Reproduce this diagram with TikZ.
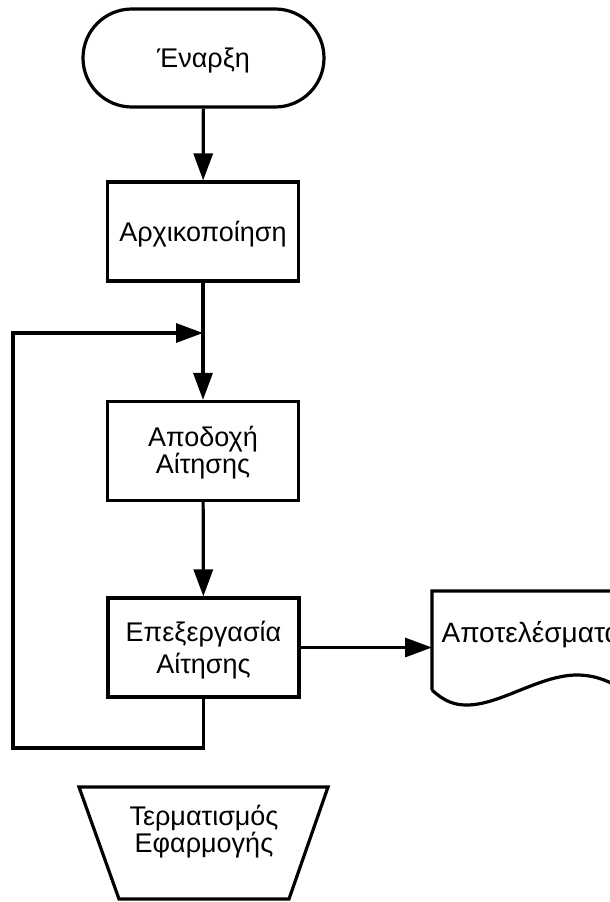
\documentclass[tikz,border=0pt]{standalone}
\usepackage{fontspec}
\setmainfont{Liberation Sans}
\usetikzlibrary{arrows.meta}
\begin{document}
\begin{tikzpicture}[x=1pt,y=-1pt,
  line width=3.2pt, line join=miter,
  every node/.style={font=\fontsize{27}{27}\selectfont, align=center, inner sep=0pt},
  proc/.style={draw, minimum width=191pt, minimum height=99pt, text depth=0pt},
  oneline/.style={text height=19.3pt},
  twolines/.style={text height={19.3pt+#1}, font=\fontsize{27}{#1}\selectfont},
  arr/.style={-{Triangle[length=27pt,width=19pt]}}
]
\useasboundingbox (0,0) rectangle (610,902);
\clip (0,0) rectangle (610,902);

% start terminal
\node[proc, oneline, rounded corners=48.9pt, minimum width=241pt, minimum height=98pt] (start) at (203.5,58) {Έναρξη};

% process boxes
\node[proc, oneline] (init) at (203,231.5) {Αρχικοποίηση};
\node[proc, twolines=25pt] (accept) at (203,451) {Αποδοχή\\Αίτησης};
\node[proc, twolines=32pt] (process) at (203.5,647.5) {Επεξεργασία\\Αίτησης};

% output document
\node[minimum width=196pt, minimum height=99pt, anchor=north west] (doc) at (432,591) {};
\draw (432,690) -- (doc.north west) -- (doc.north east) -- (628,692)
      .. controls (615,685) and (600,675) .. (577,675)
      .. controls (540,675) and (500,705) .. (467,705)
      .. controls (455,705) and (445,702) .. (432,690);
\node[anchor=base west, font=\fontsize{28}{28}\selectfont] (doctext) at (440,642) {Αποτελέσματα};

% termination
\draw (79,787) -- (328,787) -- (289,899) -- (119,899) -- cycle;
\node[anchor=base, font=\fontsize{27}{27}\selectfont] (term) at (204,852) {Τερματισμός\\Εφαρμογής};

% loop coordinates
\coordinate (join) at (203,333);
\coordinate (lb) at (203.5,748);
\coordinate (ll) at (13,748);
\coordinate (lt) at (13,333);

% connectors
\draw[arr] (start) -- (init);
\draw[arr] (init) -- (accept);
\draw[arr] (accept) -- (process);
\draw[arr] (process.east) -- (process.east -| doc.west);
\draw[arr] (process.south) -- (lb) -- (ll) -- (lt) -- (join);
\end{tikzpicture}
\end{document}
